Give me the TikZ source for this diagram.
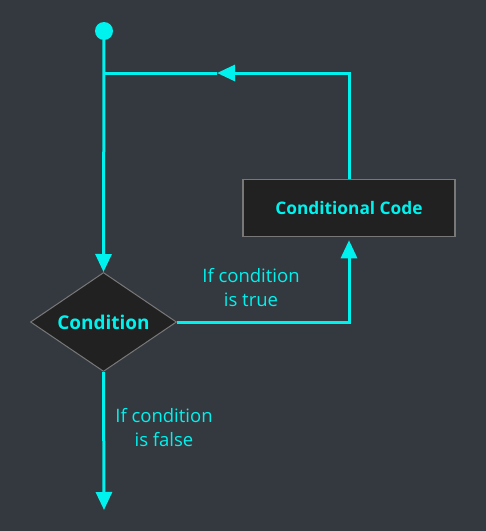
\documentclass[tikz,border=0pt]{standalone}
\usepackage{fontspec}
\setmainfont{Open Sans}
\usetikzlibrary{shapes.geometric, arrows.meta, positioning}
\definecolor{bgdark}{RGB}{52, 57, 64}
\definecolor{cyan1}{RGB}{0, 242, 238}
\definecolor{boxfill}{RGB}{33, 33, 34}
\definecolor{boxline}{RGB}{120, 120, 120}

\tikzset{
  flow/.style={draw=cyan1, line width=3pt},
  tip/.style={-{Triangle[length=18pt, width=16pt]}},
  decision/.style={diamond, aspect=1.47, draw=boxline, fill=boxfill, line width=1pt, inner sep=0pt,
    minimum width=146pt, minimum height=99pt, font=\fontsize{19}{22}\selectfont\bfseries, text=cyan1},
  codebox/.style={rectangle, draw=boxline, fill=boxfill, line width=1.5pt,
    minimum width=212pt, minimum height=57pt, font=\fontsize{17.3}{20}\selectfont\bfseries, text=cyan1},
  note/.style={align=center, text=cyan1, font=\fontsize{18.5}{24}\selectfont}
}

\begin{document}
\begin{tikzpicture}[x=1pt, y=-1pt]
  \fill[bgdark] (0,0) rectangle (486,531);
  \useasboundingbox (0,0) rectangle (486,531);

  \node[circle, fill=cyan1, minimum size=18pt, inner sep=0pt] (start) at (104,31) {};
  \node[decision] (cond) at (103.5,322) {Condition};
  \node[codebox] (code) at (349,208) {Conditional Code};
  \coordinate (join) at (104,73);
  \coordinate (loopmid) at (217,73);
  \coordinate (stop) at (104,510);

  % main line and loop back
  \draw[flow, tip] (start) -- (cond.north);
  \draw[flow, tip] (code.north) |- (loopmid);
  \draw[flow] (loopmid) -- (join);

  % true branch
  \draw[flow, tip, shorten >=3pt] (cond.east) -| (code.south);
  \node[note] (truelbl) at (251,288) {If condition\\is true};

  % false branch
  \draw[flow, tip] (cond.south) -- (stop);
  \node[note] (falselbl) at (164,428) {If condition\\is false};
\end{tikzpicture}
\end{document}
